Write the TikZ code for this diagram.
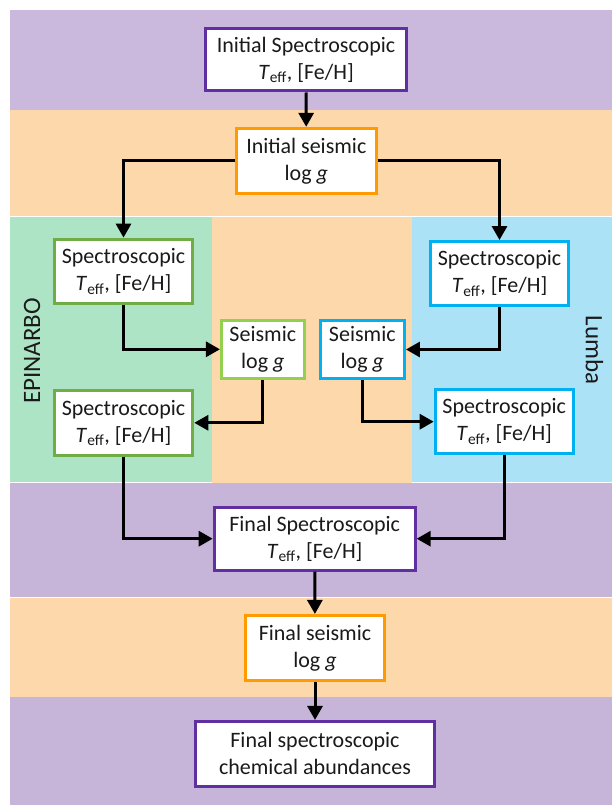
\documentclass[tikz,border=0pt]{standalone}
\usepackage{fontspec}
\setmainfont{Carlito}
\usetikzlibrary{arrows.meta}
\definecolor{bandpurple}{HTML}{CBB9DD}
\definecolor{bandpurpleB}{HTML}{C6B4D9}
\definecolor{bandorange}{HTML}{FDD8AA}
\definecolor{bandgreen}{HTML}{ACE4C5}
\definecolor{bandblue}{HTML}{ABE2F6}
\definecolor{bpurple}{HTML}{6030A0}
\definecolor{borange}{HTML}{FF9A00}
\definecolor{bgreen}{HTML}{70AD47}
\definecolor{blgreen}{HTML}{92D050}
\definecolor{bblue}{HTML}{00B0F0}
\definecolor{txt}{HTML}{1A1A1A}
\tikzset{
  box/.style={draw, line width=3pt, fill=white, align=center, inner sep=0pt,
    font=\fontsize{22}{27}\selectfont, text=txt},
  pbox/.style={box, draw=bpurple},
  obox/.style={box, draw=borange},
  gbox/.style={box, draw=bgreen},
  lgbox/.style={box, draw=blgreen},
  bbox/.style={box, draw=bblue},
  conn/.style={line width=3pt, black, -{Triangle[length=14pt,width=15pt]}},
  sidelabel/.style={font=\fontsize{25}{30}\selectfont, text=txt, inner sep=0pt}
}
\newcommand{\teff}{\textit{T}\textsubscript{eff}, [Fe/H]}
\newcommand{\logg}{log \textit{g}}
\begin{document}
\begin{tikzpicture}[x=1pt,y=-1pt]
\useasboundingbox (0,0) rectangle (612,805);
% bands
\fill[bandpurple] (10,10) rectangle (612,110);
\fill[bandorange] (10,110) rectangle (612,216.5);
\fill[bandgreen] (10,216.5) rectangle (212,482);
\fill[bandorange] (212,216.5) rectangle (412,484);
\fill[bandblue] (412,216.5) rectangle (612,482);
\fill[bandpurpleB] (10,483) rectangle (612,597.5);
\fill[bandorange] (10,597.5) rectangle (612,697);
\fill[bandpurpleB] (10,697) rectangle (612,805);
\draw[white, line width=1pt] (10,216.5) -- (612,216.5);
\draw[white, line width=1pt] (10,482.5) -- (212,482.5) (412,482.5) -- (612,482.5);
\draw[white, line width=1pt] (10,597.5) -- (612,597.5);
% labels
\node[sidelabel, rotate=90] (epi) at (32,351) {EPINARBO};
\node[sidelabel, rotate=-90] (lum) at (594.5,350) {Lumba};
% nodes
\node[pbox, minimum width=201pt, minimum height=62pt] (init) at (306,60) {Initial Spectroscopic\\\teff};
\node[obox, minimum width=139.7pt, minimum height=65pt] (iseis) at (306.3,160.8) {Initial seismic\\\logg};
\node[gbox, minimum width=138.6pt, minimum height=64.3pt] (gs1) at (123.5,271.3) {Spectroscopic\\\teff};
\node[lgbox, minimum width=82.7pt, minimum height=58.3pt] (gseis) at (262.8,349.3) {Seismic\\\logg};
\node[gbox, minimum width=138.6pt, minimum height=64.7pt] (gs2) at (123.5,422.8) {Spectroscopic\\\teff};
\node[bbox, minimum width=138.6pt, minimum height=64.3pt] (bs1) at (499.5,273.7) {Spectroscopic\\\teff};
\node[bbox, minimum width=84.3pt, minimum height=58pt] (bseis) at (362.3,349.5) {Seismic\\\logg};
\node[bbox, minimum width=138pt, minimum height=63.7pt] (bs2) at (504.2,421.7) {Spectroscopic\\\teff};
\node[pbox, minimum width=201pt, minimum height=63pt] (fspec) at (314.7,538.7) {Final Spectroscopic\\\teff};
\node[obox, minimum width=139pt, minimum height=64.7pt] (fseis) at (315,647.8) {Final seismic\\\logg};
\node[pbox, minimum width=238.4pt, minimum height=64.7pt] (fab) at (315,753.8) {Final spectroscopic\\chemical abundances};
% connectors
\draw[conn] (init) -- (iseis);
\draw[conn] (iseis.west) -| (gs1.north);
\draw[conn] (iseis.east) -| (bs1.north);
\draw[conn] (gs1.south) |- (gseis.west);
\draw[conn] (gseis.south) |- (gs2.east);
\draw[conn] (bs1.south) |- (bseis.east);
\draw[conn] (bseis.south) |- (bs2.west);
\draw[conn] (gs2.south) |- (fspec.west);
\draw[conn] (bs2.south) |- (fspec.east);
\draw[conn] (fspec) -- (fseis);
\draw[conn] (fseis) -- (fab);
\end{tikzpicture}
\end{document}
